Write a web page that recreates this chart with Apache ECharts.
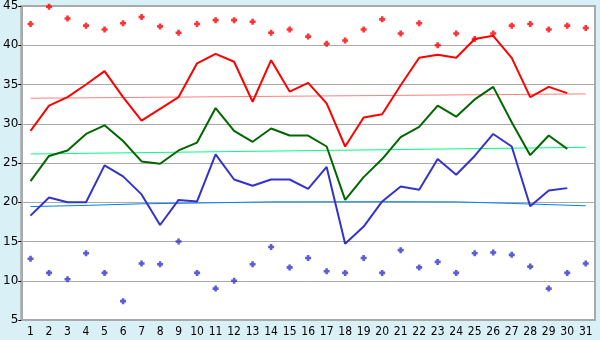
<!DOCTYPE html>
<html>
<head>
<meta charset="utf-8">
<script src="https://cdn.jsdelivr.net/npm/echarts@6/dist/echarts.min.js"></script>
<style>
  html, body { margin: 0; padding: 0; background: #daf0f7; }
  #chart { width: 600px; height: 340px; }
</style>
</head>
<body>
<div id="chart"></div>
<script>
// days of the month
const days = Array.from({ length: 31 }, (_, i) => String(i + 1))

// daily max, average and min
const maxTemp = [29.1, 32.3, 33.4, 35.0, 36.7, 33.4, 30.4, 31.9, 33.4, 37.7, 38.9, 37.9, 32.8, 38.1, 34.1, 35.2, 32.6, 27.1, 30.8, 31.2, 34.9, 38.4, 38.8, 38.4, 40.8, 41.2, 38.4, 33.4, 34.7, 33.9, null]
const avgTemp = [22.7, 25.9, 26.6, 28.7, 29.8, 27.8, 25.2, 24.9, 26.6, 27.6, 32.0, 29.1, 27.7, 29.4, 28.5, 28.5, 27.1, 20.3, 23.2, 25.5, 28.3, 29.6, 32.3, 30.9, 33.1, 34.7, 30.2, 26.0, 28.5, 26.8, null]
const minTemp = [18.3, 20.6, 20.0, 20.0, 24.7, 23.3, 21.0, 17.1, 20.3, 20.1, 26.1, 22.9, 22.1, 22.9, 22.9, 21.7, 24.5, 14.7, 16.9, 20.1, 22.0, 21.6, 25.5, 23.5, 25.9, 28.7, 27.1, 19.5, 21.5, 21.8, null]

// record highs and lows
const recordHigh = [42.7, 44.9, 43.4, 42.5, 42.0, 42.8, 43.6, 42.4, 41.6, 42.7, 43.2, 43.2, 43.0, 41.6, 42.0, 41.1, 40.2, 40.6, 42.0, 43.3, 41.5, 42.8, 40.0, 41.5, 40.8, 41.5, 42.5, 42.7, 42.0, 42.5, 42.2]
const recordLow = [12.8, 11.0, 10.2, 13.5, 11.0, 7.4, 12.2, 12.1, 15.0, 11.0, 9.0, 10.0, 12.1, 14.3, 11.7, 12.9, 11.2, 11.0, 12.9, 11.0, 13.9, 11.7, 12.4, 11.0, 13.5, 13.6, 13.3, 11.8, 9.0, 11.0, 12.2]

// trend lines [day, value]
const maxTrend = [['1', 33.25], ['31', 33.8]]
const avgTrend = [['1', 26.15], ['31', 27.0]]
const minTrend = [['1', 19.45], ['4', 19.6], ['7', 19.8], ['10', 19.9], ['14', 20.05], ['20', 20.07], ['24', 20.05], ['27', 19.85], ['29', 19.7], ['31', 19.55]]

const yTicks = [5, 10, 15, 20, 25, 30, 35, 40, 45]

// chunky plus marker
const plus = 'path://M2,0H5V2H7V5H5V7H2V5H0V2H2Z'

const myChart = echarts.init(document.getElementById('chart'))

const trend = (data, color) => ({
  type: 'line',
  data: data,
  symbol: 'none',
  silent: true,
  lineStyle: { color: color, width: 1 },
  z: 1
})

const mainLine = (data, color) => ({
  type: 'line',
  data: data,
  symbol: 'none',
  lineStyle: { color: color, width: 2 },
  z: 3
})

const dots = (data, color) => ({
  type: 'scatter',
  data: data,
  symbol: plus,
  symbolSize: 6,
  itemStyle: { color: color },
  z: 4
})

const option = {
  animation: false,
  backgroundColor: '#daf0f7',
  grid: {
    left: 20,
    right: 5,
    top: 5,
    bottom: 20,
    show: true,
    backgroundColor: '#ffffff',
    borderColor: '#aaaaaa',
    borderWidth: 2
  },
  xAxis: {
    type: 'category',
    data: days,
    boundaryGap: true,
    axisLine: { lineStyle: { color: '#aaaaaa', width: 1 } },
    axisTick: { alignWithLabel: true, length: 5, lineStyle: { color: '#000000' } },
    axisLabel: { color: '#000000', fontSize: 12, fontFamily: 'DejaVu Sans Condensed, Liberation Sans', margin: 6, interval: 0 }
  },
  yAxis: {
    type: 'value',
    min: yTicks[0],
    max: yTicks[yTicks.length - 1],
    interval: 5,
    axisLine: { show: true, lineStyle: { color: '#aaaaaa', width: 2 } },
    axisTick: { show: true, length: 3, lineStyle: { color: '#000000' } },
    axisLabel: { color: '#000000', fontSize: 12, fontFamily: 'DejaVu Sans', margin: 3 },
    splitLine: { lineStyle: { color: '#aaaaaa', width: 1 } }
  },
  series: [
    trend(maxTrend, '#ff8080'),
    trend(avgTrend, '#00ff80'),
    trend(minTrend, '#0080ff'),
    mainLine(maxTemp, '#ff0000'),
    mainLine(avgTemp, '#006600'),
    mainLine(minTemp, '#3333cc'),
    dots(recordHigh, '#ff0000'),
    dots(recordLow, '#3333cc')
  ]
}

myChart.setOption(option)
</script>
</body>
</html>
